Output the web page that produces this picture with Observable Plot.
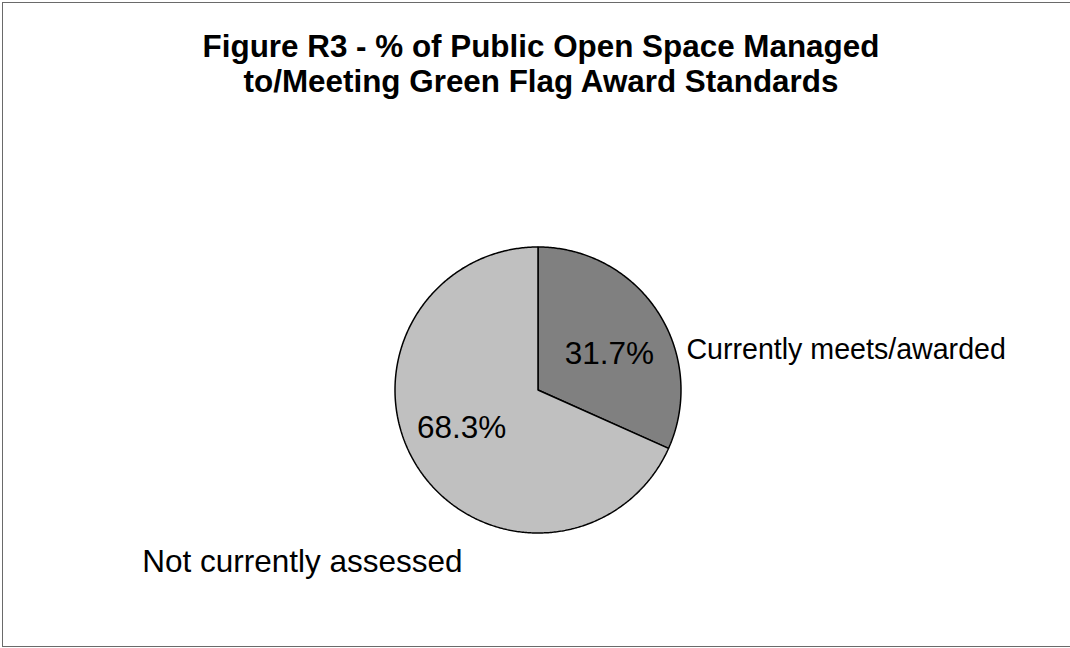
<!DOCTYPE html>
<html>
<head>
<meta charset="utf-8">
<script src="https://cdn.jsdelivr.net/npm/d3@7"></script>
<script src="https://cdn.jsdelivr.net/npm/@observablehq/plot@0.6"></script>
<style>
  html, body { margin: 0; padding: 0; background: #fff; overflow: hidden; }
  #page { width: 1070px; height: 648px; position: relative; overflow: hidden; font-family: "Liberation Sans", Arial, sans-serif; }
  #frame { position: absolute; left: 2px; top: 2px; width: 1100px; height: 645px; box-sizing: border-box; border: 1px solid #6a6a6a; }
  #title { position: absolute; left: 6px; width: 1070px; top: 30px; text-align: center; font-weight: bold; font-size: 31.4px; line-height: 34.5px; color: #000; white-space: nowrap; }
  #chart { position: absolute; left: 0; top: 0; }
</style>
</head>
<body>
<div id="page">
<div id="chart"></div>
<div id="frame"></div>
<div id="title">Figure R3 - % of Public Open Space Managed<br>to/Meeting Green Flag Award Standards</div>
</div>
<script>
const categories = ["Currently meets/awarded", "Not currently assessed"];
const values = [31.7, 68.3];
const valueLabels = ["31.7%", "68.3%"];
const sliceColors = ["#808080", "#c0c0c0"];

// layout (pixels)
const W = 1070, H = 648;
const cx = 537.5, cy = 389.5, R = 143;

const arcs = d3.pie().sort(null).value(d => d)(values);
const pt = (a, r) => ({x: cx + r * Math.sin(a), y: cy - r * Math.cos(a)});

const slices = arcs.map((a, i) => {
  const pts = [{...pt(0, 0), i}];
  const n = Math.max(8, Math.ceil((a.endAngle - a.startAngle) / 0.01));
  for (let k = 0; k <= n; k++) {
    const t = a.startAngle + (a.endAngle - a.startAngle) * k / n;
    pts.push({...pt(t, R), i});
  }
  pts.push({...pt(0, 0), i});
  return pts;
});

const mid = arcs.map(a => (a.startAngle + a.endAngle) / 2);
const valuePos = mid.map((m, i) => ({...pt(m, R * 0.57), label: valueLabels[i]}));
const catPos = mid.map((m, i) => ({...pt(m, R * 1.12), label: categories[i]}));

const font = "'Liberation Sans', Arial, sans-serif";

const plot = Plot.plot({
  width: W,
  height: H,
  margin: 0,
  x: {type: "linear", domain: [0, W], range: [0, W], axis: null},
  y: {type: "linear", domain: [0, H], range: [0, H], axis: null},
  style: {background: "transparent", fontFamily: font},
  marks: [
    ...slices.map((s, i) => Plot.line(s, {x: "x", y: "y", fill: sliceColors[i], stroke: "#000", strokeWidth: 1.5, strokeLinejoin: "miter", curve: "linear"})),
    Plot.text([valuePos[0]], {x: "x", y: "y", text: "label", fontSize: 31.5, fill: "#000", dx: 3, dy: 8}),
    Plot.text([valuePos[1]], {x: "x", y: "y", text: "label", fontSize: 31.5, fill: "#000", dx: -8, dy: -6}),
    Plot.text([catPos[0]], {x: "x", y: "y", text: "label", fontSize: 28.6, fill: "#000", textAnchor: "start", dx: 14, dy: 47}),
    Plot.text([catPos[1]], {x: "x", y: "y", text: "label", fontSize: 31.5, fill: "#000", textAnchor: "end", dx: 59, dy: 85})
  ]
});
document.getElementById("chart").appendChild(plot);
</script>
</body>
</html>
